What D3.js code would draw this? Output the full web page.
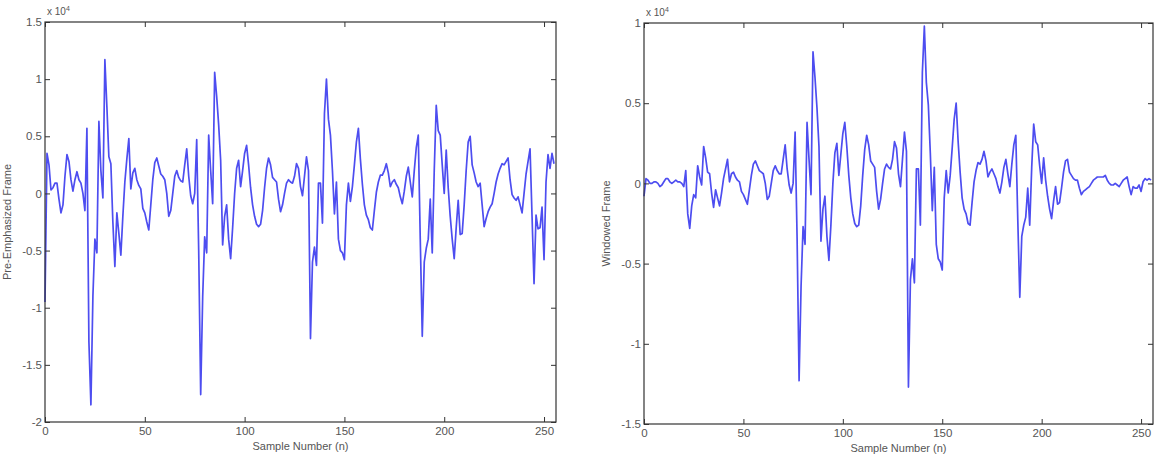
<!DOCTYPE html>
<html lang="en">
<head>
    <meta charset="UTF-8">
    <title>Pre-Emphasized and Windowed Frame</title>
    <script src="https://d3js.org/d3.v7.min.js"></script>
    <style>
        body { margin: 0; background: #fff; font-family: "Liberation Sans", Arial, sans-serif; }
        .tick text { fill: #555; font-size: 11.5px; }
        .tick line { stroke: #333; }
        .label { fill: #555; font-size: 11px; }
    </style>
</head>
<body>
<svg id="chart" width="1176" height="462"></svg>
<script>
// values in units of 10^4, sample n = array index
const preEmphasized = [
    -0.95, 0.35, 0.25, 0.03, 0.05, 0.09, 0.09, -0.05, -0.17, -0.10,
    0.15, 0.34, 0.28, 0.12, 0.02, 0.12, 0.19, 0.12, 0.09, 0.00,
    -0.15, 0.57, -1.30, -1.85, -0.90, -0.40, -0.52, 0.63, 0.20, -0.04,
    1.17, 0.76, 0.32, 0.26, -0.25, -0.64, -0.17, -0.35, -0.54, -0.20,
    0.10, 0.30, 0.48, 0.04, 0.18, 0.22, 0.12, 0.07, 0.04, -0.13,
    -0.17, -0.25, -0.32, -0.10, 0.12, 0.27, 0.31, 0.24, 0.17, 0.15,
    0.12, 0.00, -0.20, -0.15, 0.00, 0.15, 0.20, 0.14, 0.11, 0.10,
    0.25, 0.39, 0.15, -0.02, -0.09, 0.00, 0.47, -0.50, -1.76, -0.90,
    -0.38, -0.52, 0.51, 0.20, -0.09, 1.06, 0.85, 0.60, 0.29, -0.45,
    -0.20, -0.10, -0.40, -0.57, -0.30, 0.00, 0.22, 0.29, 0.06, 0.20,
    0.35, 0.42, 0.25, 0.05, -0.10, -0.20, -0.27, -0.29, -0.27, -0.15,
    0.05, 0.22, 0.31, 0.25, 0.14, 0.12, 0.10, -0.05, -0.16, -0.10,
    0.00, 0.09, 0.12, 0.10, 0.09, 0.15, 0.26, 0.22, 0.06, -0.02,
    0.15, 0.32, 0.20, -1.27, -0.60, -0.47, -0.63, 0.09, 0.09, -0.26,
    0.70, 1.00, 0.65, 0.51, 0.20, -0.18, 0.10, -0.40, -0.50, -0.52,
    -0.58, -0.10, 0.09, -0.07, 0.06, 0.25, 0.45, 0.57, 0.30, 0.08,
    -0.10, -0.19, -0.23, -0.30, -0.32, -0.15, 0.01, 0.10, 0.16, 0.16,
    0.20, 0.26, 0.18, 0.06, 0.10, 0.12, 0.08, 0.05, -0.03, -0.09,
    0.02, 0.15, 0.23, 0.10, -0.03, 0.20, 0.40, 0.51, -0.40, -1.25,
    -0.60, -0.48, -0.40, -0.05, -0.52, 0.20, 0.77, 0.55, 0.51, 0.25,
    0.00, 0.38, 0.05, -0.20, -0.40, -0.57, -0.30, -0.06, -0.36, -0.35,
    -0.10, 0.20, 0.45, 0.50, 0.25, 0.18, 0.10, 0.06, 0.09, -0.10,
    -0.29, -0.22, -0.16, -0.12, -0.09, 0.00, 0.10, 0.17, 0.22, 0.26,
    0.25, 0.28, 0.31, 0.12, -0.01, -0.04, -0.06, -0.03, -0.10, -0.17,
    0.00, 0.17, 0.28, 0.39, -0.20, -0.79, -0.19, -0.31, -0.30, -0.12,
    -0.58, 0.10, 0.34, 0.22, 0.35, 0.26
];

const windowed = [
    -0.08, 0.03, 0.02, 0.00, 0.00, 0.01, 0.01, 0.00, -0.02, -0.01,
    0.01, 0.03, 0.03, 0.01, 0.00, 0.01, 0.02, 0.01, 0.01, 0.00,
    -0.02, 0.08, -0.19, -0.28, -0.14, -0.07, -0.09, 0.11, 0.04, -0.01,
    0.23, 0.16, 0.07, 0.06, -0.06, -0.15, -0.04, -0.09, -0.14, -0.06,
    0.03, 0.09, 0.15, 0.01, 0.06, 0.07, 0.04, 0.02, 0.01, -0.05,
    -0.07, -0.10, -0.13, -0.04, 0.05, 0.12, 0.14, 0.11, 0.08, 0.07,
    0.06, 0.00, -0.10, -0.08, 0.00, 0.08, 0.11, 0.08, 0.06, 0.06,
    0.15, 0.24, 0.09, -0.01, -0.06, 0.00, 0.32, -0.34, -1.23, -0.64,
    -0.27, -0.38, 0.38, 0.15, -0.07, 0.82, 0.66, 0.47, 0.23, -0.36,
    -0.16, -0.08, -0.33, -0.48, -0.26, 0.00, 0.19, 0.25, 0.05, 0.18,
    0.31, 0.38, 0.23, 0.05, -0.09, -0.19, -0.25, -0.27, -0.26, -0.14,
    0.05, 0.21, 0.30, 0.24, 0.14, 0.12, 0.10, -0.05, -0.16, -0.10,
    0.00, 0.09, 0.12, 0.10, 0.09, 0.15, 0.26, 0.22, 0.06, -0.02,
    0.15, 0.32, 0.20, -1.27, -0.60, -0.47, -0.62, 0.09, 0.09, -0.26,
    0.69, 0.98, 0.63, 0.49, 0.19, -0.17, 0.10, -0.38, -0.47, -0.49,
    -0.54, -0.09, 0.08, -0.06, 0.05, 0.22, 0.40, 0.50, 0.26, 0.07,
    -0.09, -0.16, -0.19, -0.25, -0.26, -0.12, 0.01, 0.08, 0.13, 0.12,
    0.15, 0.20, 0.14, 0.04, 0.07, 0.09, 0.06, 0.03, -0.02, -0.06,
    0.01, 0.10, 0.15, 0.06, -0.02, 0.12, 0.24, 0.30, -0.23, -0.71,
    -0.33, -0.26, -0.21, -0.03, -0.26, 0.10, 0.37, 0.26, 0.24, 0.11,
    0.00, 0.16, 0.02, -0.08, -0.16, -0.22, -0.11, -0.02, -0.13, -0.12,
    -0.03, 0.07, 0.14, 0.15, 0.07, 0.05, 0.03, 0.02, 0.02, -0.03,
    -0.07, -0.05, -0.04, -0.03, -0.02, 0.00, 0.02, 0.03, 0.04, 0.04,
    0.04, 0.04, 0.05, 0.02, 0.00, -0.01, -0.01, 0.00, -0.01, -0.02,
    0.00, 0.02, 0.03, 0.04, -0.02, -0.07, -0.02, -0.03, -0.03, -0.01,
    -0.05, 0.01, 0.03, 0.02, 0.03, 0.02
];

const xTicks = [0, 50, 100, 150, 200, 250];
const leftYTicks = [-2, -1.5, -1, -0.5, 0, 0.5, 1, 1.5];
const rightYTicks = [-1.5, -1, -0.5, 0, 0.5, 1];

const svg = d3.select("#chart");

function drawPanel(opts) {
    const { left, top, right, bottom, data, yDomain, yTicks, yLabel } = opts;
    const g = svg.append("g");

    const x = d3.scaleLinear().domain([0, 256]).range([left, right]);
    const y = d3.scaleLinear().domain(yDomain).range([bottom, top]);
    const fmt = d => String(d);

    // signal
    const line = d3.line()
        .x((d, i) => x(i))
        .y(d => y(d));

    g.append("path")
        .datum(data)
        .attr("fill", "none")
        .attr("stroke", "#4d4df0")
        .attr("stroke-width", 1.7)
        .attr("stroke-linejoin", "round")
        .attr("d", line);

    // axes, matlab style: ticks pointing inwards on all four sides
    g.append("g")
        .attr("transform", `translate(0,${bottom})`)
        .call(d3.axisBottom(x).tickValues(xTicks).tickFormat(fmt)
            .tickSizeInner(-5).tickSizeOuter(0).tickPadding(5))
        .call(a => a.select(".domain").remove());

    g.append("g")
        .attr("transform", `translate(0,${top})`)
        .call(d3.axisTop(x).tickValues(xTicks).tickFormat("")
            .tickSizeInner(-5).tickSizeOuter(0))
        .call(a => a.select(".domain").remove());

    g.append("g")
        .attr("transform", `translate(${left},0)`)
        .call(d3.axisLeft(y).tickValues(yTicks).tickFormat(fmt)
            .tickSizeInner(-5).tickSizeOuter(0).tickPadding(3))
        .call(a => a.select(".domain").remove());

    g.append("g")
        .attr("transform", `translate(${right},0)`)
        .call(d3.axisRight(y).tickValues(yTicks).tickFormat("")
            .tickSizeInner(-5).tickSizeOuter(0))
        .call(a => a.select(".domain").remove());

    g.selectAll(".tick text").attr("font-family", null).attr("font-size", null);

    // box
    g.append("rect")
        .attr("x", left).attr("y", top)
        .attr("width", right - left).attr("height", bottom - top)
        .attr("fill", "none")
        .attr("stroke", "#333")
        .attr("stroke-width", 1.2);

    // exponent
    const exp = g.append("text")
        .attr("class", "label")
        .attr("x", left + 2)
        .attr("y", top - 7)
        .style("font-size", "10px");
    exp.append("tspan").text("x 10");
    exp.append("tspan").attr("dy", -4).style("font-size", "7px").text("4");

    // axis labels
    g.append("text")
        .attr("class", "label")
        .attr("x", (left + right) / 2)
        .attr("y", bottom + 28)
        .attr("text-anchor", "middle")
        .text("Sample Number (n)");

    g.append("text")
        .attr("class", "label")
        .attr("transform", `translate(${left - 34},${(top + bottom) / 2}) rotate(-90)`)
        .attr("text-anchor", "middle")
        .text(yLabel);
}

drawPanel({
    left: 45, top: 22, right: 556, bottom: 422,
    data: preEmphasized, yDomain: [-2, 1.5], yTicks: leftYTicks,
    yLabel: "Pre-Emphasized Frame"
});

drawPanel({
    left: 644, top: 23, right: 1153, bottom: 424,
    data: windowed, yDomain: [-1.5, 1], yTicks: rightYTicks,
    yLabel: "Windowed Frame"
});
</script>
</body>
</html>
